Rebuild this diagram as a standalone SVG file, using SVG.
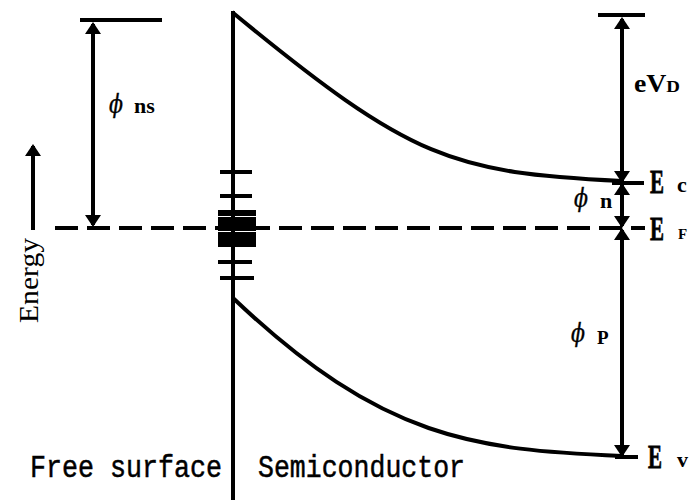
<svg xmlns="http://www.w3.org/2000/svg" width="695" height="500" viewBox="0 0 695 500">
<style>
.ln{stroke:#000;stroke-width:4;fill:none}
.dash{stroke:#000;stroke-width:4;fill:none;stroke-dasharray:23 9}
.arr{marker-start:url(#ah);marker-end:url(#ah)}
.sym{font-family:"DejaVu Serif","Liberation Serif",serif;font-style:italic;font-size:26px;fill:#000;stroke:#000;stroke-width:0.4}
.sub{font-family:"Liberation Serif","Times New Roman",serif;font-weight:bold;font-size:22px;fill:#000}
.sc{font-variant:small-caps;font-size:27px}
.E{font-family:"Liberation Serif","Times New Roman",serif;font-weight:bold;font-size:33px;fill:#000;stroke:#000;stroke-width:0.8}
.mono{font-family:"Liberation Mono","Courier New",monospace;font-size:31px;fill:#000;stroke:#000;stroke-width:0.5}
</style>
<defs>
<marker id="ah" viewBox="0 0 12 16" refX="10" refY="8" markerWidth="12" markerHeight="16" markerUnits="userSpaceOnUse" orient="auto-start-reverse">
<path d="M0,0 L12,8 L0,16 Z" fill="#000"/>
</marker>
</defs>
<rect width="695" height="500" fill="#fff"/>

<g id="connectors">
  <line class="dash" x1="55" y1="228" x2="645" y2="228"/>
  <line class="ln" x1="80" y1="20" x2="162" y2="20"/>
  <line class="ln arr" x1="93" y1="24" x2="93" y2="225"/>
  <line class="ln" x1="33" y1="230" x2="33" y2="146" marker-end="url(#ah)"/>
  <line class="ln" x1="233" y1="11" x2="233" y2="500"/>
  <path class="ln" d="M232,12 C413,161 452,172.5 622,181"/>
  <line class="ln" x1="612" y1="183" x2="644" y2="183"/>
  <path class="ln" d="M233,298 C383,440.5 475,449.5 622,456"/>
  <line class="ln" x1="615" y1="457" x2="638" y2="457"/>
  <line class="ln" x1="598" y1="15" x2="645" y2="15"/>
  <line class="ln arr" x1="622" y1="19" x2="622" y2="181"/>
  <line class="ln arr" x1="622" y1="185" x2="622" y2="226"/>
  <line class="ln arr" x1="622" y1="230" x2="622" y2="455"/>
</g>

<g id="surface-states">
  <line class="ln" x1="220" y1="172" x2="252" y2="172"/>
  <line class="ln" x1="220" y1="196" x2="252" y2="196"/>
  <rect x="218" y="210" width="38" height="6" fill="#000"/>
  <rect x="218" y="217" width="38" height="14" fill="#000"/>
  <rect x="218" y="232" width="38" height="15" fill="#000"/>
  <line class="ln" x1="218" y1="262" x2="252" y2="262"/>
  <line class="ln" x1="220" y1="278" x2="254" y2="278"/>
  <line class="ln" x1="233" y1="205" x2="233" y2="250"/>
</g>

<g id="label-phins">
  <text class="sym" x="109" y="113" textLength="14" lengthAdjust="spacingAndGlyphs">ϕ</text>
  <text class="sub" x="134" y="113">ns</text>
</g>
<g id="label-eVD">
  <text x="634" y="92" style="font-family:'Liberation Serif','Times New Roman',serif;font-weight:bold;font-size:25px" textLength="46" lengthAdjust="spacingAndGlyphs">eV<tspan style="font-size:17px">D</tspan></text>
</g>
<g id="label-phin">
  <text class="sym" x="574" y="207" textLength="14" lengthAdjust="spacingAndGlyphs">ϕ</text>
  <text class="sub" x="600" y="208">n</text>
</g>
<g id="label-phip">
  <text class="sym" x="571" y="342" textLength="14" lengthAdjust="spacingAndGlyphs">ϕ</text>
  <text class="sub sc" x="597" y="344">p</text>
</g>
<g id="label-Ec">
  <text class="E" x="650" y="193" textLength="14" lengthAdjust="spacingAndGlyphs">E</text>
  <text class="sub" x="677" y="192">c</text>
</g>
<g id="label-EF">
  <text class="E" x="650" y="240" textLength="14" lengthAdjust="spacingAndGlyphs">E</text>
  <text class="sub" x="678" y="239" style="font-size:15px">F</text>
</g>
<g id="label-Ev">
  <text class="E" x="648" y="468" textLength="14" lengthAdjust="spacingAndGlyphs">E</text>
  <text class="sub" x="677" y="467">v</text>
</g>
<g id="label-energy">
  <text x="0" y="0" transform="translate(38,323) rotate(-90)" style="font-family:'Liberation Serif','Times New Roman',serif;font-size:27px" textLength="85" lengthAdjust="spacingAndGlyphs">Energy</text>
</g>
<g id="label-free">
  <text class="mono" x="30" y="477" textLength="192" lengthAdjust="spacingAndGlyphs">Free surface</text>
</g>
<g id="label-semi">
  <text class="mono" x="258" y="477" textLength="207" lengthAdjust="spacingAndGlyphs">Semiconductor</text>
</g>
</svg>
